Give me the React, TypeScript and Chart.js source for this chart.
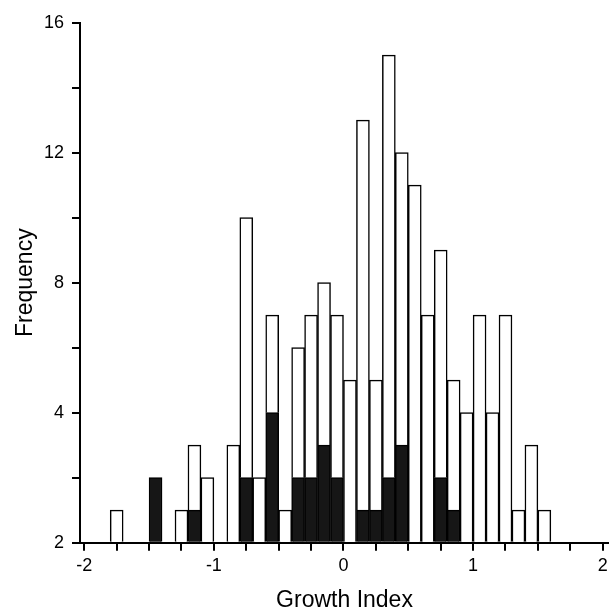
import { useEffect, useRef } from 'react';
import { Chart, registerables } from 'chart.js';

Chart.register(...registerables);

// Histogram bins (centre of each 0.1-wide bin of the growth index)
const binCenters = [
  -1.75, -1.65, -1.55, -1.45, -1.35, -1.25, -1.15, -1.05, -0.95, -0.85,
  -0.75, -0.65, -0.55, -0.45, -0.35, -0.25, -0.15, -0.05, 0.05, 0.15,
  0.25, 0.35, 0.45, 0.55, 0.65, 0.75, 0.85, 0.95, 1.05, 1.15,
  1.25, 1.35, 1.45, 1.55,
];

// Total frequency in each bin (top of the open bar)
const totalCounts = [
  1, 0, 0, 2, 0, 1, 3, 2, 0, 3,
  10, 2, 7, 1, 6, 7, 8, 7, 5, 13,
  5, 15, 12, 11, 7, 9, 5, 4, 7, 4,
  7, 1, 3, 1,
];

// Frequency of the shaded (filled) part of each bin
const shadedCounts = [
  0, 0, 0, 2, 0, 0, 1, 0, 0, 0,
  2, 0, 4, 0, 2, 2, 3, 2, 0, 1,
  1, 2, 3, 0, 0, 2, 1, 0, 0, 0,
  0, 0, 0, 0,
];

const xTickValues = [-2, -1.75, -1.5, -1.25, -1, -0.75, -0.5, -0.25, 0, 0.25, 0.5, 0.75, 1, 1.25, 1.5, 1.75, 2];
const xTickLabels = ['-2', '', '', '', '-1', '', '', '', '0', '', '', '', '1', '', '', '', '2'];
const yTickValues = [0, 2, 4, 6, 8, 10, 12, 14, 16];
const yTickLabels = ['2', '', '4', '', '8', '', '12', '', '16'];

const FONT = "'Liberation Sans', Arial, Helvetica, sans-serif";

export default function App() {
  const canvasRef = useRef<HTMLCanvasElement | null>(null);

  useEffect(() => {
    document.body.style.margin = '0';
    const canvas = canvasRef.current;
    if (!canvas) return;

    const shadedData = binCenters.map((x, i) => ({ x, y: shadedCounts[i] > 0 ? shadedCounts[i] : null }));
    const openData = binCenters.map((x, i) => {
      const v = totalCounts[i] - shadedCounts[i];
      return { x, y: v > 0 ? v : null };
    });

    const chart = new Chart(canvas, {
      type: 'bar',
      data: {
        datasets: [
          {
            label: 'shaded',
            data: shadedData as any,
            backgroundColor: '#161616',
            borderColor: '#000',
            borderWidth: 1.5,
            borderSkipped: 'start',
            barPercentage: 1,
            categoryPercentage: 1,
          },
          {
            label: 'open',
            data: openData as any,
            backgroundColor: '#ffffff',
            borderColor: '#000',
            borderWidth: 1.5,
            borderSkipped: 'start',
            barPercentage: 1,
            categoryPercentage: 1,
          },
        ],
      },
      options: {
        animation: false,
        responsive: false,
        maintainAspectRatio: false,
        layout: { padding: { top: 22.7, right: 0, left: 0, bottom: 0 } },
        plugins: {
          legend: { display: false },
          tooltip: { enabled: false },
        },
        scales: {
          x: {
            type: 'linear',
            min: -2.033,
            max: 2.0486,
            stacked: true,
            offset: false,
            z: 1,
            afterBuildTicks: (s: any) => {
              s.ticks = xTickValues.map((v) => ({ value: v }));
            },
            afterFit: (s: any) => {
              s.height = 68.3;
              s.paddingLeft = 0;
              s.paddingRight = 0;
            },
            ticks: {
              autoSkip: false,
              maxRotation: 0,
              minRotation: 0,
              padding: 5,
              color: '#000',
              font: { family: FONT, size: 18 },
              callback: (_v: any, i: number) => xTickLabels[i],
            },
            grid: {
              offset: false,
              drawOnChartArea: false,
              drawTicks: true,
              tickLength: 8,
              color: '#000',
              lineWidth: 2,
            },
            border: { display: true, color: '#000', width: 2 },
            title: {
              display: true,
              text: 'Growth Index',
              color: '#000',
              font: { family: FONT, size: 23, lineHeight: 0.9 },
              padding: { top: 0, bottom: 0 },
            },
          },
          y: {
            type: 'linear',
            min: 0,
            max: 16,
            stacked: true,
            z: 1,
            afterBuildTicks: (s: any) => {
              s.ticks = yTickValues.map((v) => ({ value: v }));
            },
            afterFit: (s: any) => {
              s.width = 80;
            },
            ticks: {
              autoSkip: false,
              padding: 8,
              color: '#000',
              font: { family: FONT, size: 18 },
              callback: (_v: any, i: number) => yTickLabels[i],
            },
            grid: {
              drawOnChartArea: false,
              drawTicks: true,
              tickLength: 8,
              color: '#000',
              lineWidth: 2,
            },
            border: { display: true, color: '#000', width: 2 },
            title: {
              display: true,
              text: 'Frequency',
              color: '#000',
              font: { family: FONT, size: 23, lineHeight: 1.2 },
              padding: { top: 12, bottom: 0 },
            },
          },
        },
      },
    });

    return () => chart.destroy();
  }, []);

  return (
    <div style={{ width: 609, height: 611, background: '#fff' }}>
      <canvas ref={canvasRef} width={609} height={611} style={{ display: 'block' }} />
    </div>
  );
}
